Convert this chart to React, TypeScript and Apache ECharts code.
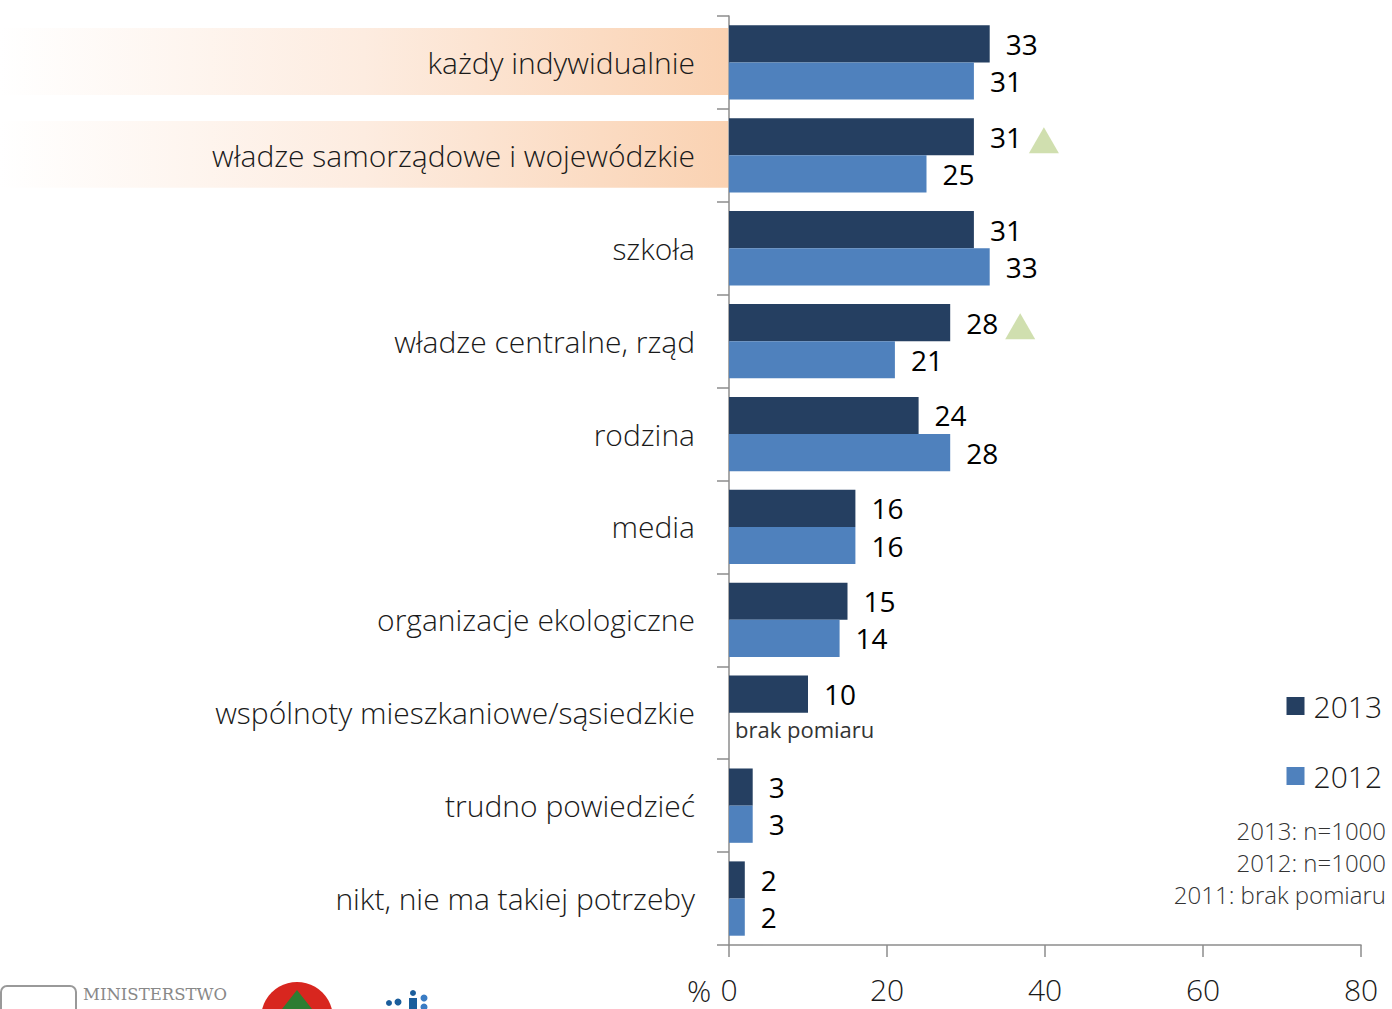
import React, { useEffect, useRef } from "react";
import * as echarts from "echarts";

const categories = [
  "każdy indywidualnie",
  "władze samorządowe i wojewódzkie",
  "szkoła",
  "władze centralne, rząd",
  "rodzina",
  "media",
  "organizacje ekologiczne",
  "wspólnoty mieszkaniowe/sąsiedzkie",
  "trudno powiedzieć",
  "nikt, nie ma takiej potrzeby",
];
const values2013 = [33, 31, 31, 28, 24, 16, 15, 10, 3, 2];
const values2012: (number | null)[] = [31, 25, 33, 21, 28, 16, 14, null, 3, 2];
const increase2013 = [false, true, false, true, false, false, false, false, false, false];
const highlighted = ["każdy indywidualnie", "władze samorządowe i wojewódzkie"];
const seriesNames = ["2013", "2012"];
const notes = ["2013: n=1000", "2012: n=1000", "2011: brak pomiaru"];
const missingLabel = "brak pomiaru";

const FONT = "'Open Sans', 'Noto Sans', sans-serif";
const C2013 = "#253f61";
const C2012 = "#4f81bd";

export default function App() {
  const ref = useRef<HTMLDivElement>(null);
  useEffect(() => {
    document.body.style.margin = "0";
    document.body.style.overflow = "hidden";
    if (!ref.current) return;
    const chart = echarts.init(ref.current, null, { renderer: "svg" });
    const option: any = {
      animation: false,
      backgroundColor: "#ffffff",
      textStyle: { fontFamily: FONT },
      grid: { left: 729, right: 31, top: 16, bottom: 64, containLabel: false },
      legend: {
        data: seriesNames,
        orient: "vertical",
        right: 5,
        top: 686,
        itemWidth: 18,
        itemHeight: 18,
        itemGap: 40,
        icon: "rect",
        textStyle: { fontSize: 30, color: "#1a1a1a", fontFamily: FONT, fontWeight: 300, padding: [0, 0, 0, 4] },
      },
      xAxis: {
        type: "value",
        min: 0,
        max: 80,
        interval: 20,
        splitLine: { show: false },
        axisLine: { show: true, lineStyle: { color: "#8c8c8c", width: 1.5 } },
        axisTick: { show: true, length: 12, lineStyle: { color: "#8c8c8c", width: 1.5 } },
        axisLabel: { fontSize: 30, color: "#1a1a1a", margin: 29, fontFamily: FONT, fontWeight: 300 },
      },
      yAxis: {
        type: "category",
        inverse: true,
        data: categories,
        axisLine: { show: true, lineStyle: { color: "#8c8c8c", width: 1.5 } },
        axisTick: { show: true, length: 12, lineStyle: { color: "#8c8c8c", width: 1.5 } },
        axisLabel: { fontSize: 30, color: "#1a1a1a", margin: 34, fontFamily: FONT, fontWeight: 300, padding: [0, 0, 3, 0] },
      },
      series: [
        {
          name: seriesNames[0],
          type: "bar",
          data: values2013,
          barGap: "0%",
          barCategoryGap: "20%",
          itemStyle: { color: C2013 },
          label: { show: true, position: "right", distance: 16, fontSize: 28, color: "#000", fontFamily: FONT },
          z: 3,
        },
        {
          name: seriesNames[1],
          type: "bar",
          data: values2012.map((v) =>
            v === null
              ? {
                  value: 0,
                  label: { formatter: missingLabel, fontSize: 22, color: "#333", distance: 6, offset: [0, -2] },
                }
              : v
          ),
          barGap: "0%",
          barCategoryGap: "20%",
          itemStyle: { color: C2012 },
          label: { show: true, position: "right", distance: 16, fontSize: 28, color: "#000", fontFamily: FONT },
          z: 3,
        },
        {
          name: "wzrost",
          type: "scatter",
          data: categories
            .map((c, i) => (increase2013[i] ? [values2013[i], c] : null))
            .filter((d) => d !== null),
          symbol: "triangle",
          symbolSize: [30, 26],
          symbolOffset: [70, -15],
          itemStyle: { color: "#c4d79b" },
          z: 4,
        },
      ],
    };
    chart.setOption(option);

    const bandH = (chart.convertToPixel({ yAxisIndex: 0 }, categories[1]) as number) -
      (chart.convertToPixel({ yAxisIndex: 0 }, categories[0]) as number);
    const graphics: any[] = highlighted.map((c) => {
      const cy = chart.convertToPixel({ yAxisIndex: 0 }, c) as number;
      const h = bandH * 0.72;
      return {
        type: "rect",
        z: -10,
        shape: { x: 0, y: cy - h / 2 - 1, width: 728, height: h },
        style: {
          fill: new echarts.graphic.LinearGradient(0, 0, 1, 0, [
            { offset: 0, color: "#ffffff" },
            { offset: 0.5, color: "#fdece0" },
            { offset: 1, color: "#fad2b2" },
          ]),
        },
        silent: true,
      };
    });
    const x0 = chart.convertToPixel({ xAxisIndex: 0 }, 0) as number;
    graphics.push({
      type: "text",
      x: x0 - 42,
      y: 990,
      style: { text: "%", font: `300 30px ${FONT}`, fill: "#1a1a1a", textVerticalAlign: "middle" },
    });
    notes.forEach((t, i) => {
      graphics.push({
        type: "text",
        right: 6,
        top: 818 + i * 32,
        style: { text: t, fill: "#333", font: `300 24px ${FONT}`, textAlign: "right" },
      });
    });
    // partial logos at bottom-left
    graphics.push(
      {
        type: "rect",
        shape: { x: 1, y: 986, width: 75, height: 40, r: 6 },
        style: { fill: "#fff", stroke: "#999", lineWidth: 2 },
      },
      {
        type: "text",
        x: 83,
        y: 986,
        style: { text: "MINISTERSTWO", font: "16.5px 'DejaVu Serif', serif", fill: "#888" },
      },
      {
        type: "circle",
        shape: { cx: 297, cy: 1018, r: 36 },
        style: { fill: "#d8261f" },
      },
      {
        type: "polygon",
        shape: { points: [[297, 990], [282, 1009], [312, 1009]] },
        style: { fill: "#2e7d32" },
      },
      { type: "circle", shape: { cx: 389, cy: 1003, r: 3 }, style: { fill: "#1b5e9c" } },
      { type: "circle", shape: { cx: 398, cy: 1002, r: 3.5 }, style: { fill: "#1b5e9c" } },
      { type: "circle", shape: { cx: 413, cy: 993, r: 3 }, style: { fill: "#1b5e9c" } },
      { type: "rect", shape: { x: 409, y: 998, width: 8, height: 11 }, style: { fill: "#1b5e9c" } },
      { type: "circle", shape: { cx: 424, cy: 998, r: 3.5 }, style: { fill: "#3a7cc4" } },
      { type: "circle", shape: { cx: 424, cy: 1007, r: 3.5 }, style: { fill: "#3a7cc4" } }
    );
    chart.setOption({ graphic: graphics });

    return () => chart.dispose();
  }, []);
  return (
    <div
      ref={ref}
      style={{ position: "fixed", left: 0, top: 0, width: 1392, height: 1009 }}
    />
  );
}
